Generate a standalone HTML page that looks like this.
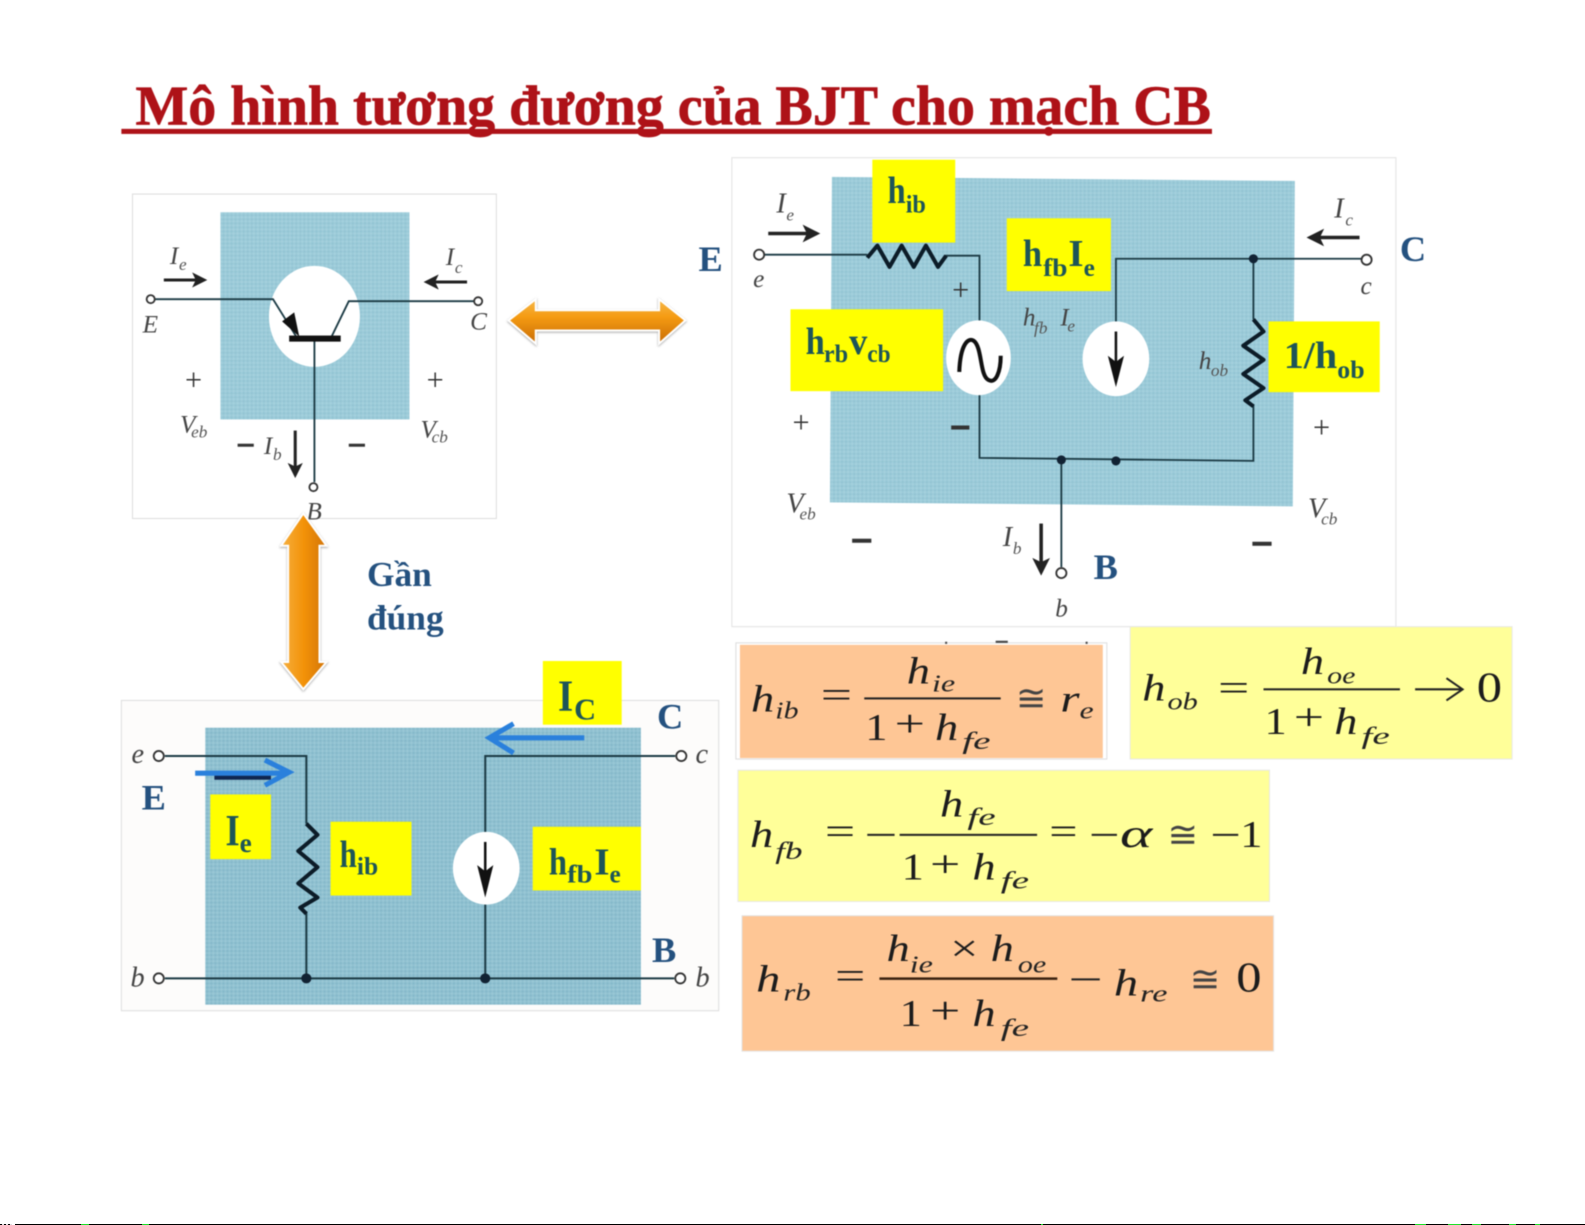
<!DOCTYPE html>
<html><head><meta charset="utf-8"><style>
html,body{margin:0;padding:0;background:#fff;width:1585px;height:1225px;overflow:hidden;position:relative}
svg{position:absolute;left:0;top:0;font-family:"Liberation Serif",serif;filter:blur(.5px)}
.y{font-weight:bold;font-size:38px;fill:#1d5558}.ys{font-weight:bold;font-size:25px;fill:#1d5558}
.b{font-weight:bold;font-size:36px;fill:#24517f}
.i{font-style:italic;fill:#444;font-size:25px}.is{font-style:italic;fill:#555;font-size:17px}
.o{fill:#333;font-size:30px}
.h{font-style:italic;font-size:38px;fill:#1c1c1c}.s{font-style:italic;font-size:24px;fill:#222}.n{font-size:38px;fill:#1c1c1c}
.a{font-size:36px;fill:#444}
.w{stroke:#1b3a44;stroke-width:1.8;fill:none}.z{stroke:#0c1c28;stroke-width:4;fill:none;stroke-linejoin:round}
.t{fill:#fff;stroke:#333;stroke-width:1.8}
.bar{position:absolute;bottom:0;height:1px}
</style></head><body>
<svg width="1585" height="1225" viewBox="0 0 1568 1212" xmlns="http://www.w3.org/2000/svg">
<defs>
<pattern id="p" width="4" height="4" patternUnits="userSpaceOnUse"><rect width="4" height="4" fill="#9ccbd9"/><rect width="2" height="2" fill="#93c4d3"/><rect x="2" y="2" width="2" height="2" fill="#a5d1dd"/></pattern>
<pattern id="q" width="4" height="4" patternUnits="userSpaceOnUse"><rect width="4" height="4" fill="#90c1d1"/><rect width="2" height="2" fill="#85b8c9"/><rect x="2" y="2" width="2" height="2" fill="#9ac8d6"/></pattern>
<linearGradient id="gh" x1="0" y1="0" x2="0" y2="1"><stop offset="0" stop-color="#f6b84a"/><stop offset=".4" stop-color="#f59b12"/><stop offset="1" stop-color="#c86c06"/></linearGradient>
<linearGradient id="gv" x1="0" y1="0" x2="1" y2="0"><stop offset="0" stop-color="#f6b040"/><stop offset=".5" stop-color="#f39208"/><stop offset="1" stop-color="#d27408"/></linearGradient>
<marker id="m" markerWidth="5" markerHeight="5" refX="4" refY="2.5" orient="auto"><path d="M0,0L5,2.5L0,5L1.2,2.5Z" fill="#222"/></marker>
</defs>

<!-- Title -->
<text x="134" y="123" font-weight="bold" font-size="56" fill="#ae1218" stroke="#ae1218" stroke-width=".7" textLength="1064" lengthAdjust="spacingAndGlyphs">Mô hình tương đương của BJT cho mạch CB</text>
<rect x="120" y="127.5" width="1079" height="5" fill="#ae1218"/>

<!-- Image 1 -->
<rect x="131" y="192" width="360" height="321" fill="#fff" stroke="#ddd"/>
<rect x="218" y="210" width="187" height="205" fill="url(#p)"/>
<ellipse cx="311" cy="313" rx="45" ry="50" fill="#fff"/>
<path class="w" d="M153,296H270L293,333M328,333L345,298H469M311,337V477"/>
<path d="M296,333L279,318L291,309Z" fill="#111"/>
<rect x="286" y="332" width="51" height="6" fill="#111"/>
<circle class="t" cx="149" cy="296" r="4"/><circle class="t" cx="473" cy="298" r="4"/><circle class="t" cx="310" cy="482" r="4"/>
<path d="M162,277H202" stroke="#222" stroke-width="3" marker-end="url(#m)"/>
<path d="M462,279H422" stroke="#222" stroke-width="3" marker-end="url(#m)"/>
<path d="M292,426V470" stroke="#222" stroke-width="3" marker-end="url(#m)"/>
<text class="i" x="168" y="261">I</text><text class="is" x="177" y="267">e</text>
<text class="i" x="441" y="262">I</text><text class="is" x="450" y="270">c</text>
<text class="i" x="141" y="329">E</text><text class="i" x="465" y="326">C</text>
<text class="o" x="183" y="386">+</text><text class="o" x="422" y="386">+</text>
<text class="i" x="178" y="428">V</text><text class="is" x="189" y="433">eb</text>
<text class="i" x="416" y="433">V</text><text class="is" x="427" y="438">cb</text>
<rect x="235" y="439" width="16" height="3" fill="#333"/><rect x="345" y="439" width="16" height="3" fill="#333"/>
<text class="i" x="261" y="449">I</text><text class="is" x="270" y="455">b</text>
<text class="i" x="303" y="514">B</text>

<!-- Orange arrows -->
<path d="M503,317L530,296V307H652V296L678,317L652,340V327H530V340Z" fill="url(#gh)" stroke="#fff" stroke-width="2" style="filter:drop-shadow(0 1px 1px #aaa)"/>
<path d="M300,508L323,540H316V655H323L300,682L278,655H285V540H278Z" fill="url(#gv)" stroke="#fff" stroke-width="2" style="filter:drop-shadow(0 1px 1px #aaa)"/>
<text class="b" x="363" y="580" style="font-size:35px">Gần</text>
<text class="b" x="363" y="623" style="font-size:35px">đúng</text>

<!-- Image 2 -->
<rect x="724" y="156" width="657" height="464" fill="#fff" stroke="#e2e2e2"/>
<path d="M823,175L1281,179L1279,501L821,497Z" fill="url(#p)"/>
<ellipse cx="968" cy="354" rx="32" ry="37" fill="#fff"/>
<ellipse cx="1104" cy="355" rx="33" ry="37" fill="#fff"/>
<path class="w" d="M755,252H858M935,253H969V317M969,391V453L1240,456V400M1240,316V256M1104,318V256H1348M1050,455V561"/>
<path class="z" d="M858,255L868,243L880,264L892,243L904,264L916,243L928,264L936,253"/>
<path class="z" d="M1240,316L1250,328L1230,342L1250,356L1230,370L1250,384L1232,396L1240,402"/>
<path d="M949,368C950,340 958,334 963,337C972,343 969,372 978,376C985,380 990,368 990,352" stroke="#111" stroke-width="4" fill="none"/>
<path d="M1104,328V378" stroke="#111" stroke-width="2.5"/><path d="M1096,352L1104,383L1112,352L1104,358Z" fill="#111"/>
<circle cx="1240" cy="256" r="4.5" fill="#123"/><circle cx="1050" cy="455" r="4.5" fill="#123"/><circle cx="1104" cy="456" r="4.5" fill="#123"/>
<circle class="t" cx="751" cy="252" r="5"/><circle class="t" cx="1352" cy="257" r="5"/><circle class="t" cx="1050" cy="567" r="5"/>
<path d="M760,231H808" stroke="#222" stroke-width="3.5" marker-end="url(#m)"/>
<path d="M1345,235H1296" stroke="#222" stroke-width="3.5" marker-end="url(#m)"/>
<path d="M1030,518V566" stroke="#222" stroke-width="3.5" marker-end="url(#m)"/>
<text class="i" x="768" y="210" style="font-size:28px">I</text><text class="is" x="778" y="218">e</text>
<text class="i" x="1320" y="215" style="font-size:28px">I</text><text class="is" x="1331" y="223">c</text>
<text class="i" x="745" y="284">e</text><text class="i" x="1346" y="291">c</text>
<text class="o" x="942" y="297">+</text><rect x="941" y="421" width="18" height="4" fill="#333"/>
<text class="i" x="1012" y="322">h</text><text class="is" x="1023" y="330">fb</text><text class="i" x="1049" y="322">I</text><text class="is" x="1056" y="328">e</text>
<text class="i" x="1186" y="365">h</text><text class="is" x="1198" y="372">ob</text>
<text class="o" x="784" y="428">+</text><text class="o" x="1299" y="433">+</text>
<text class="i" x="778" y="507" style="font-size:28px">V</text><text class="is" x="791" y="514">eb</text>
<text class="i" x="1294" y="512" style="font-size:28px">V</text><text class="is" x="1307" y="519">cb</text>
<rect x="843" y="533" width="19" height="4" fill="#333"/><rect x="1239" y="536" width="19" height="4" fill="#333"/>
<text class="i" x="992" y="540" style="font-size:28px">I</text><text class="is" x="1002" y="548">b</text>
<text class="i" x="1044" y="610">b</text>

<rect x="863" y="158" width="82" height="82" fill="#ffff00"/>
<rect x="996" y="216" width="103" height="72" fill="#ffff00"/>
<rect x="782" y="306" width="151" height="81" fill="#ffff00"/>
<rect x="1255" y="318" width="110" height="70" fill="#ffff00"/>
<text class="y" x="878" y="201" textLength="18" lengthAdjust="spacingAndGlyphs">h</text><text class="ys" x="896" y="210" textLength="20" lengthAdjust="spacingAndGlyphs">ib</text>
<text class="y" x="1012" y="263" textLength="19" lengthAdjust="spacingAndGlyphs">h</text><text class="ys" x="1032" y="273" textLength="24" lengthAdjust="spacingAndGlyphs">fb</text><text class="y" x="1057" y="263" textLength="15" lengthAdjust="spacingAndGlyphs">I</text><text class="ys" x="1072" y="273">e</text>
<text class="y" x="797" y="350" textLength="19" lengthAdjust="spacingAndGlyphs">h</text><text class="ys" x="815" y="358" textLength="24" lengthAdjust="spacingAndGlyphs">rb</text><text class="y" x="840" y="350" textLength="18" lengthAdjust="spacingAndGlyphs">v</text><text class="ys" x="858" y="358" textLength="23" lengthAdjust="spacingAndGlyphs">cb</text>
<text class="y" x="1270" y="364" textLength="53" lengthAdjust="spacingAndGlyphs">1/h</text><text class="ys" x="1323" y="374" textLength="27" lengthAdjust="spacingAndGlyphs">ob</text>
<text class="b" x="691" y="268">E</text><text class="b" x="1385" y="258">C</text><text class="b" x="1082" y="573">B</text>

<!-- Image 3 -->
<rect x="120" y="693" width="591" height="307" fill="#fdfcfb" stroke="#ddd"/>
<rect x="203" y="720" width="431" height="274" fill="url(#q)"/>
<ellipse cx="481" cy="859" rx="33" ry="36" fill="#fff"/>
<path class="w" d="M163,748H303V815M303,902V968M163,968H667M668,748H480V823M480,895V968" style="stroke-width:2"/>
<path class="z" d="M303,815L314,826L295,842L314,858L295,874L314,888L297,898L303,904"/>
<path d="M480,833V880" stroke="#111" stroke-width="2.5"/><path d="M472,856L480,888L488,856L480,862Z" fill="#111"/>
<circle cx="303" cy="968" r="5" fill="#123"/><circle cx="480" cy="968" r="5" fill="#123"/>
<circle class="t" cx="157" cy="748" r="5"/><circle class="t" cx="674" cy="748" r="5"/><circle class="t" cx="157" cy="968" r="5"/><circle class="t" cx="673" cy="968" r="5"/>
<path d="M212,769H268" stroke="#102650" stroke-width="5"/>
<path d="M193,765H284M262,752L286,764L262,777" stroke="#2a80dc" stroke-width="5" fill="none"/>
<path d="M578,730H486M508,716L484,730L508,745" stroke="#2a80dc" stroke-width="5" fill="none"/>
<text class="i" x="130" y="755" style="font-size:28px">e</text><text class="i" x="688" y="755" style="font-size:28px">c</text>
<text class="i" x="129" y="976" style="font-size:28px">b</text><text class="i" x="688" y="976" style="font-size:28px">b</text>
<rect x="537" y="654" width="78" height="63" fill="#ffff00"/>
<rect x="208" y="786" width="60" height="64" fill="#ffff00"/>
<rect x="327" y="813" width="80" height="73" fill="#ffff00"/>
<rect x="527" y="818" width="107" height="63" fill="#ffff00"/>
<text class="y" x="552" y="703" style="font-size:44px" textLength="15" lengthAdjust="spacingAndGlyphs">I</text><text class="ys" x="568" y="712" style="font-size:30px">C</text>
<text class="y" x="223" y="836" style="font-size:44px" textLength="14" lengthAdjust="spacingAndGlyphs">I</text><text class="ys" x="237" y="843" style="font-size:27px">e</text>
<text class="y" x="336" y="858" textLength="17" lengthAdjust="spacingAndGlyphs">h</text><text class="ys" x="353" y="865" textLength="21" lengthAdjust="spacingAndGlyphs">ib</text>
<text class="y" x="543" y="865" textLength="18" lengthAdjust="spacingAndGlyphs">h</text><text class="ys" x="561" y="873" textLength="25" lengthAdjust="spacingAndGlyphs">fb</text><text class="y" x="588" y="865" textLength="15" lengthAdjust="spacingAndGlyphs">I</text><text class="ys" x="603" y="873">e</text>
<text class="b" x="140" y="801">E</text><text class="b" x="650" y="721">C</text><text class="b" x="645" y="952">B</text>

<!-- Formula 1 -->
<rect x="728" y="636" width="367" height="115" fill="#fff" stroke="#ddd"/>
<rect x="732" y="638" width="359" height="112" fill="#fec695"/>
<path d="M936,635v2M985,635h12M1075,635v2" stroke="#444" stroke-width="2"/>
<text class="h" x="743" y="704" textLength="23" lengthAdjust="spacingAndGlyphs">h</text><text class="s" x="767" y="711" textLength="23" lengthAdjust="spacingAndGlyphs">ib</text>
<text class="n" x="812" y="700" textLength="31" lengthAdjust="spacingAndGlyphs">=</text>
<rect x="855" y="690" width="135" height="2" fill="#222"/>
<text class="h" x="897" y="676" textLength="23" lengthAdjust="spacingAndGlyphs">h</text><text class="s" x="922" y="684" textLength="23" lengthAdjust="spacingAndGlyphs">ie</text>
<text class="n" x="856" y="732" textLength="22" lengthAdjust="spacingAndGlyphs">1</text><text class="n" x="885" y="728" textLength="30" lengthAdjust="spacingAndGlyphs">+</text><text class="h" x="925" y="732" textLength="23" lengthAdjust="spacingAndGlyphs">h</text><text class="s" x="952" y="741" textLength="28" lengthAdjust="spacingAndGlyphs">fe</text>
<text class="a" x="1005" y="703">≅</text><text class="h" x="1049" y="704" textLength="19" lengthAdjust="spacingAndGlyphs">r</text><text class="s" x="1068" y="711" textLength="14" lengthAdjust="spacingAndGlyphs">e</text>

<!-- Formula 2 -->
<rect x="1118" y="620" width="378" height="131" fill="#ffff99" stroke="#e8e8e8"/>
<text class="h" x="1130" y="693" textLength="23" lengthAdjust="spacingAndGlyphs">h</text><text class="s" x="1155" y="702" textLength="30" lengthAdjust="spacingAndGlyphs">ob</text>
<text class="n" x="1205" y="693" textLength="31" lengthAdjust="spacingAndGlyphs">=</text>
<rect x="1250" y="681" width="135" height="2" fill="#222"/>
<text class="h" x="1287" y="667" textLength="23" lengthAdjust="spacingAndGlyphs">h</text><text class="s" x="1313" y="676" textLength="28" lengthAdjust="spacingAndGlyphs">oe</text>
<text class="n" x="1251" y="726" textLength="22" lengthAdjust="spacingAndGlyphs">1</text><text class="n" x="1280" y="722" textLength="30" lengthAdjust="spacingAndGlyphs">+</text><text class="h" x="1320" y="726" textLength="23" lengthAdjust="spacingAndGlyphs">h</text><text class="s" x="1347" y="736" textLength="28" lengthAdjust="spacingAndGlyphs">fe</text>
<path d="M1400,682H1445M1431,671L1447,682L1431,693" stroke="#222" stroke-width="2" fill="none"/>
<text class="n" x="1461" y="694" style="font-size:42px" textLength="25" lengthAdjust="spacingAndGlyphs">0</text>

<!-- Formula 3 -->
<rect x="730" y="762" width="526" height="130" fill="#ffff99" stroke="#e8e8e8"/>
<text class="h" x="742" y="838" textLength="23" lengthAdjust="spacingAndGlyphs">h</text><text class="s" x="767" y="850" textLength="27" lengthAdjust="spacingAndGlyphs">fb</text>
<text class="n" x="816" y="835" textLength="30" lengthAdjust="spacingAndGlyphs">=</text><rect x="858" y="825" width="27" height="2" fill="#222"/>
<rect x="890" y="825" width="136" height="2" fill="#222"/>
<text class="h" x="930" y="808" textLength="23" lengthAdjust="spacingAndGlyphs">h</text><text class="s" x="957" y="816" textLength="28" lengthAdjust="spacingAndGlyphs">fe</text>
<text class="n" x="892" y="870" textLength="22" lengthAdjust="spacingAndGlyphs">1</text><text class="n" x="920" y="867" textLength="30" lengthAdjust="spacingAndGlyphs">+</text><text class="h" x="962" y="870" textLength="23" lengthAdjust="spacingAndGlyphs">h</text><text class="s" x="990" y="879" textLength="28" lengthAdjust="spacingAndGlyphs">fe</text>
<text class="n" x="1038" y="835" textLength="28" lengthAdjust="spacingAndGlyphs">=</text><rect x="1080" y="825" width="25" height="2" fill="#222"/>
<text class="h" x="1108" y="838" style="font-size:40px" textLength="32" lengthAdjust="spacingAndGlyphs">α</text>
<text class="a" x="1155" y="838">≅</text><rect x="1200" y="825" width="25" height="2" fill="#222"/>
<text class="n" x="1227" y="838" textLength="22" lengthAdjust="spacingAndGlyphs">1</text>

<!-- Formula 4 -->
<rect x="734" y="906" width="526" height="134" fill="#fec695" stroke="#e4e4e4"/>
<text class="h" x="748" y="981" textLength="24" lengthAdjust="spacingAndGlyphs">h</text><text class="s" x="775" y="990" textLength="27" lengthAdjust="spacingAndGlyphs">rb</text>
<text class="n" x="826" y="978" textLength="30" lengthAdjust="spacingAndGlyphs">=</text>
<rect x="870" y="967" width="176" height="2.5" fill="#3a2210"/>
<text class="h" x="877" y="951" textLength="23" lengthAdjust="spacingAndGlyphs">h</text><text class="s" x="900" y="962" textLength="23" lengthAdjust="spacingAndGlyphs">ie</text>
<text class="n" x="940" y="951" textLength="28" lengthAdjust="spacingAndGlyphs">×</text>
<text class="h" x="980" y="951" textLength="23" lengthAdjust="spacingAndGlyphs">h</text><text class="s" x="1007" y="962" textLength="28" lengthAdjust="spacingAndGlyphs">oe</text>
<text class="n" x="890" y="1015" textLength="22" lengthAdjust="spacingAndGlyphs">1</text><text class="n" x="920" y="1012" textLength="30" lengthAdjust="spacingAndGlyphs">+</text><text class="h" x="962" y="1015" textLength="23" lengthAdjust="spacingAndGlyphs">h</text><text class="s" x="990" y="1025" textLength="28" lengthAdjust="spacingAndGlyphs">fe</text>
<rect x="1060" y="968" width="28" height="2" fill="#222"/>
<text class="h" x="1102" y="985" textLength="24" lengthAdjust="spacingAndGlyphs">h</text><text class="s" x="1128" y="991" textLength="27" lengthAdjust="spacingAndGlyphs">re</text>
<text class="a" x="1177" y="981">≅</text><text class="n" x="1223" y="981" style="font-size:42px" textLength="25" lengthAdjust="spacingAndGlyphs">0</text>
</svg>
<div class="bar" style="left:15px;width:1570px;background:#000"></div>
<div class="bar" style="left:0;width:12px;background:repeating-linear-gradient(90deg,#000 0 2px,#ddd 2px 4px)"></div>
<div class="bar" style="left:81px;width:8px;background:#1ee02a"></div>
<div class="bar" style="left:142px;width:7px;background:#1ee02a"></div>
<div class="bar" style="left:1041px;width:2px;background:#1ee02a"></div>
<div class="bar" style="left:1415px;width:11px;background:#1ee02a"></div>
<div class="bar" style="left:1448px;width:13px;background:#1ee02a"></div>
<div class="bar" style="left:1472px;width:9px;background:#1ee02a"></div>
<div class="bar" style="left:1509px;width:7px;background:#1ee02a"></div>
<div class="bar" style="left:1535px;width:5px;background:#1ee02a"></div>
</body></html>
